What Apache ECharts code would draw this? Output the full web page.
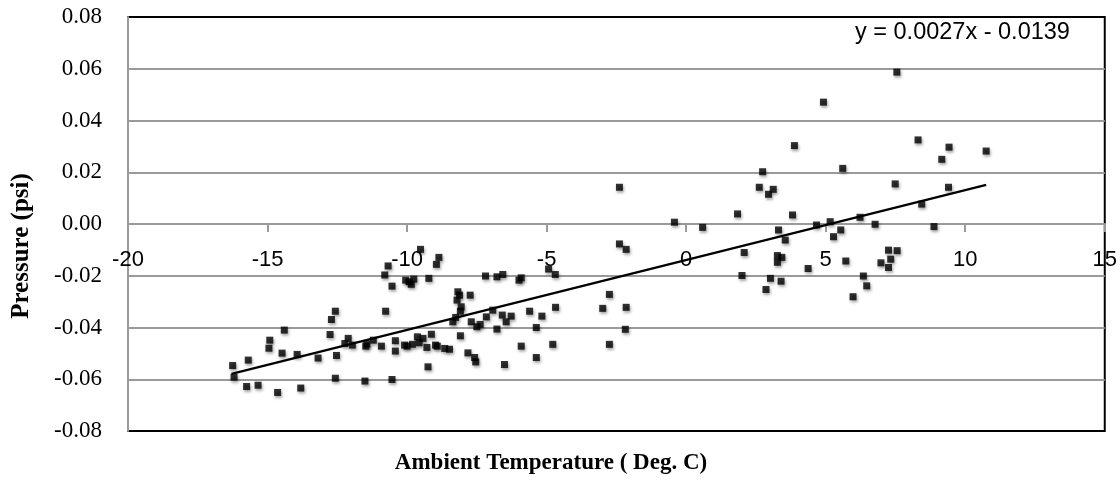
<!DOCTYPE html>
<html>
<head>
<meta charset="utf-8">
<script src="https://cdn.jsdelivr.net/npm/echarts@6/dist/echarts.min.js"></script>
<style>
html,body{margin:0;padding:0;background:#fff;}
#chart{width:1120px;height:481px;}
</style>
</head>
<body>
<div id="chart"></div>
<script>
// Ambient temperature (Deg. C) of each observation
const temperature = [
  -16.25,-16.20,-15.69,-15.75,-15.34,-14.92,-14.95,-14.64,-14.40,-14.48,
  -13.94,-13.81,-13.19,-12.76,-12.71,-12.57,-12.53,-12.57,-12.23,-12.11,
  -11.96,-11.48,-11.44,-11.51,-11.21,-10.92,-10.80,-10.68,-10.77,-10.54,
  -10.54,-10.42,-10.42,-10.09,-10.00,-10.05,-9.93,-9.85,-9.76,-9.81,
  -9.63,-9.57,-9.52,-9.43,-9.29,-9.25,-9.22,-9.13,-8.98,-8.95,
  -8.92,-8.86,-8.65,-8.48,-8.36,-8.26,-8.21,-8.18,-8.12,-8.09,
  -8.06,-8.09,-7.82,-7.74,-7.70,-7.58,-7.54,-7.50,-7.38,-7.19,
  -7.16,-6.93,-6.78,-6.78,-6.59,-6.57,-6.51,-6.45,-6.27,-5.99,
  -5.91,-5.91,-5.61,-5.37,-5.37,-5.17,-4.93,-4.78,-4.69,-4.68,
  -2.99,-2.75,-2.75,-2.39,-2.39,-2.15,-2.15,-2.18,-0.42,0.59,
  1.84,2.00,2.08,2.62,2.74,2.86,2.95,3.02,3.12,3.27,
  3.27,3.31,3.40,3.43,3.55,3.81,3.88,4.37,4.67,4.92,
  5.16,5.28,5.54,5.61,5.72,5.98,6.23,6.35,6.47,6.77,
  6.98,7.25,7.25,7.33,7.49,7.55,7.56,8.31,8.44,8.88,
  9.16,9.40,9.42,10.75
];
// Pressure (psi) of each observation
const pressure = [
  -0.0547,-0.0592,-0.0526,-0.0628,-0.0623,-0.0449,-0.0480,-0.0651,-0.0410,-0.0499,
  -0.0504,-0.0634,-0.0518,-0.0427,-0.0369,-0.0337,-0.0508,-0.0596,-0.0462,-0.0442,
  -0.0468,-0.0472,-0.0464,-0.0607,-0.0449,-0.0472,-0.0197,-0.0162,-0.0337,-0.0601,
  -0.0240,-0.0451,-0.0491,-0.0468,-0.0472,-0.0217,-0.0223,-0.0233,-0.0213,-0.0465,
  -0.0436,-0.0459,-0.0098,-0.0442,-0.0477,-0.0552,-0.0210,-0.0426,-0.0468,-0.0156,
  -0.0472,-0.0129,-0.0481,-0.0484,-0.0378,-0.0361,-0.0294,-0.0262,-0.0275,-0.0337,
  -0.0320,-0.0432,-0.0498,-0.0275,-0.0378,-0.0516,-0.0533,-0.0397,-0.0388,-0.0201,
  -0.0359,-0.0333,-0.0204,-0.0406,-0.0352,-0.0195,-0.0543,-0.0378,-0.0356,-0.0217,
  -0.0208,-0.0472,-0.0337,-0.0400,-0.0516,-0.0356,-0.0174,-0.0465,-0.0195,-0.0322,
  -0.0326,-0.0272,-0.0465,0.0142,-0.0077,-0.0098,-0.0322,-0.0407,0.0007,-0.0013,
  0.0039,-0.0199,-0.0110,0.0142,0.0202,-0.0253,0.0115,-0.0210,0.0134,-0.0122,
  -0.0148,-0.0023,-0.0221,-0.0129,-0.0062,0.0035,0.0303,-0.0172,-0.0004,0.0471,
  0.0009,-0.0049,-0.0023,0.0215,-0.0143,-0.0281,0.0026,-0.0201,-0.0239,-0.0001,
  -0.0150,-0.0101,-0.0168,-0.0136,0.0155,0.0587,-0.0103,0.0325,0.0077,-0.0010,
  0.0250,0.0142,0.0297,0.0282
];
// Linear trendline end points (match y = 0.0027x - 0.0139)
const trendTemperature = [-16.29, 10.75];
const trendPressure = [-0.0579, 0.0151];
const trendEquation = 'y = 0.0027x - 0.0139';
// Axis ticks
const xTicks = {min: -20, max: 15, step: 5};
const yTicks = {min: -0.08, max: 0.08, step: 0.02};
const xTitle = 'Ambient Temperature ( Deg. C)';
const yTitle = 'Pressure (psi)';

const points = temperature.map((t, i) => [t, pressure[i]]);
const trend = trendTemperature.map((t, i) => [t, trendPressure[i]]);

const gridTop = 17, gridBottom = 50, chartH = 481;
const plotH = chartH - gridTop - gridBottom;
// the horizontal axis crosses at pressure 0: shift it up from the plot's bottom edge
const zeroShift = -plotH * (0 - yTicks.min) / (yTicks.max - yTicks.min);

const chart = echarts.init(document.getElementById('chart'), null, {renderer: 'canvas'});
chart.setOption({
  animation: false,
  backgroundColor: '#fff',
  grid: {
    left: 128, right: 14, top: gridTop, bottom: gridBottom,
    show: true, borderColor: '#000', borderWidth: 2, backgroundColor: 'transparent', z: 0
  },
  xAxis: {
    type: 'value',
    position: 'bottom',
    offset: zeroShift,
    min: xTicks.min, max: xTicks.max, interval: xTicks.step,
    z: 3,
    axisLine: {show: true, onZero: false, lineStyle: {color: '#9a9a9a', width: 2}},
    axisTick: {show: true, length: 8, lineStyle: {color: '#9a9a9a', width: 2}},
    splitLine: {show: false},
    axisLabel: {
      margin: 25, color: '#000',
      fontFamily: 'Liberation Sans', fontSize: 22,
      showMinLabel: true, showMaxLabel: true
    }
  },
  yAxis: {
    type: 'value',
    min: yTicks.min, max: yTicks.max, interval: yTicks.step,
    z: 3,
    axisLine: {show: true, onZero: false, lineStyle: {color: '#9a9a9a', width: 2}},
    axisTick: {show: false},
    splitLine: {show: true, showMinLine: false, showMaxLine: false, lineStyle: {color: '#9a9a9a', width: 2}},
    axisLabel: {
      margin: 26, color: '#000',
      fontFamily: 'Liberation Serif', fontSize: 23,
      formatter: v => (Math.abs(v) < 1e-9 ? 0 : v).toFixed(2)
    }
  },
  graphic: [
    {
      type: 'text', x: 22, y: 246, rotation: Math.PI / 2, z: 10,
      style: {
        text: yTitle, fill: '#000',
        font: 'bold 25px "Liberation Serif"',
        align: 'center', verticalAlign: 'middle',
        textAlign: 'center', textVerticalAlign: 'middle'
      }
    },
    {
      type: 'text', x: 551, y: 463, z: 10,
      style: {
        text: xTitle, fill: '#000',
        font: 'bold 23px "Liberation Serif"',
        align: 'center', verticalAlign: 'middle',
        textAlign: 'center', textVerticalAlign: 'middle'
      }
    },
    {
      type: 'text', x: 855, y: 33, z: 10,
      style: {
        text: trendEquation, fill: '#000',
        font: '23.5px "Liberation Sans"',
        align: 'left', verticalAlign: 'middle',
        textAlign: 'left', textVerticalAlign: 'middle'
      }
    }
  ],
  series: [
    {
      type: 'scatter',
      data: points,
      symbol: 'rect',
      symbolSize: 7,
      z: 5,
      itemStyle: {
        color: '#000',
        shadowBlur: 3, shadowColor: 'rgba(0,0,0,0.45)',
        shadowOffsetX: 1, shadowOffsetY: 2
      }
    },
    {
      type: 'line',
      data: trend,
      symbol: 'none',
      z: 6,
      lineStyle: {color: '#000', width: 2.2},
      silent: true
    }
  ]
});
</script>
</body>
</html>
